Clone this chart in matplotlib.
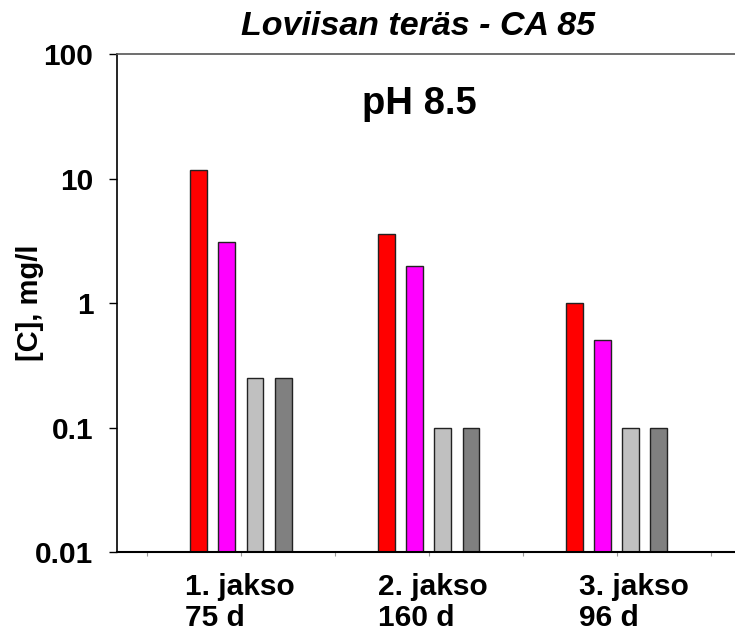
import matplotlib
matplotlib.use('Agg')
import matplotlib.pyplot as plt
import numpy as np

plt.rcParams['font.family'] = ['Liberation Sans', 'DejaVu Sans']
plt.rcParams['font.weight'] = 'bold'

# data
groups = [1, 2, 3]
group_labels = ['1. jakso\n75 d', '2. jakso\n160 d', '3. jakso\n96 d']
series_red = [11.7, 3.6, 1.0]
series_magenta = [3.07, 2.0, 0.5]
series_lightgray = [0.25, 0.1, 0.1]
series_darkgray = [0.25, 0.1, 0.1]
series = [series_red, series_magenta, series_lightgray, series_darkgray]
colors = ['#FF0000', '#FF00FF', '#C0C0C0', '#808080']
offsets = [-0.225, -0.075, 0.075, 0.225]
label_shift = [-0.30, -0.27, -0.20]

fig = plt.figure(figsize=(7.35, 6.34), dpi=100)
ax = fig.add_axes([0.159, 0.1293, 0.841, 0.7855])

x = np.array(groups, dtype=float)
for vals, col, off in zip(series, colors, offsets):
    ax.bar(x + off, vals, width=0.09, color=col, edgecolor='#222222',
           linewidth=1.0, bottom=0.0)

ax.set_yscale('log')
ax.set_ylim(0.01, 100)
ax.set_xlim(0.34, 3.63)
ax.set_yticks([0.01, 0.1, 1, 10, 100])
ax.set_yticklabels(['0.01', '0.1', '1', '10', '100'])
ax.minorticks_off()
ax.tick_params(axis='y', direction='out', length=6, width=1, labelsize=21.5, pad=11)
ax.set_xticks(np.arange(0.5, 3.6, 0.5))
ax.set_xticklabels([])
ax.tick_params(axis='x', direction='out', length=3, width=0.8, color='#999999')

ax.spines['right'].set_visible(False)
ax.spines['top'].set_color('#555555')
ax.spines['top'].set_linewidth(1.2)
ax.spines['bottom'].set_linewidth(1.5)
ax.spines['left'].set_linewidth(1.2)

ax.set_ylabel('[C], mg/l', fontsize=21, fontweight='bold')
ax.yaxis.set_label_coords(-0.118, 0.5)

for g, lab, sh in zip(groups, group_labels, label_shift):
    ax.text(g + sh, -0.043, lab, transform=ax.get_xaxis_transform(),
            ha='left', va='top', fontsize=21.5, fontweight='bold',
            linespacing=1.1)

fig.text(0.569, 0.958, 'Loviisan teräs - CA 85', ha='center', va='center',
         fontsize=24.5, fontweight='bold', fontstyle='italic')
ax.text(1.95, 0.90, 'pH 8.5', transform=ax.get_xaxis_transform(),
        ha='center', va='center', fontsize=27.5, fontweight='bold')

fig.savefig('out.png', dpi=100)
